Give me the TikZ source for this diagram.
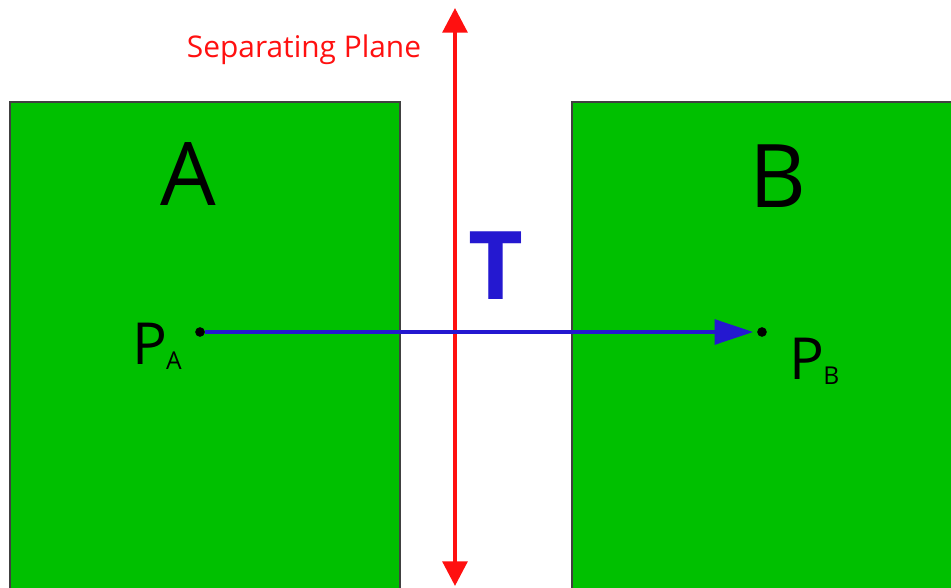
\documentclass[tikz,border=0pt]{standalone}
\usepackage{fontspec}
\setmainfont{Open Sans}
\usepackage{tikz}
\usetikzlibrary{arrows.meta, positioning}
\definecolor{BoxGreen}{HTML}{00C000}
\definecolor{BoxEdge}{HTML}{404040}
\definecolor{PlaneRed}{HTML}{FF1010}
\definecolor{TBlue}{HTML}{2418D0}
\tikzset{
    % solid bodies
    body/.style={
        rectangle,
        draw=BoxEdge,
        fill=BoxGreen,
        line width=0.8pt
    },
    body label/.style={
        font=\fontsize{50}{50}\selectfont,
        text=black
    },
    point dot/.style={
        circle,
        fill=black,
        inner sep=0pt,
        minimum size=5.5pt
    },
    point label/.style={
        font=\fontsize{33}{33}\selectfont,
        text=black,
        inner sep=0pt
    },
    plane arrow/.style={
        {Triangle[length=14pt,width=14pt]}-{Triangle[length=14pt,width=14pt]},
        PlaneRed,
        line width=2.3pt
    },
    trans arrow/.style={
        -{Triangle[length=22pt,width=14pt]},
        TBlue,
        line width=2.3pt,
        shorten >=2pt
    }
}
\newcommand{\subtext}[1]{\kern-0.5pt\raisebox{-3pt}{\fontsize{14}{14}\selectfont #1}}
\begin{document}
\begin{tikzpicture}[x=0.02cm, y=-0.02cm]
    \useasboundingbox (0,0) rectangle (951,588);
    \fill[white] (0,0) rectangle (951,588);

    \draw[body] (10,102) rectangle (400,595);
    \draw[body] (572,102) rectangle (960,595);

    \node[body label] (labelA) at (188,174) {A};
    \node[body label] (labelB) at (778,176) {B};

    \coordinate (planeTop) at (455,8);
    \coordinate (planeBottom) at (455,586);
    \draw[plane arrow] (planeTop) -- (planeBottom);
    \node[text=PlaneRed, font=\fontsize{17}{17}\selectfont] (planeName) at (304,50) {Separating Plane};

    \node[point dot] (pA) at (200,332) {};
    \node[point dot] (pB) at (762,332) {};
    \draw[trans arrow] (pA) -- (pB);

    \node[point label, anchor=east] (labelPA) at (182,346) {P\subtext{A}};
    \node[point label, anchor=west] (labelPB) at (789,361) {P\subtext{B}};

    \node[text=TBlue, font=\fontsize{54}{54}\selectfont\bfseries] (labelT) at (496,266) {T};
\end{tikzpicture}
\end{document}
